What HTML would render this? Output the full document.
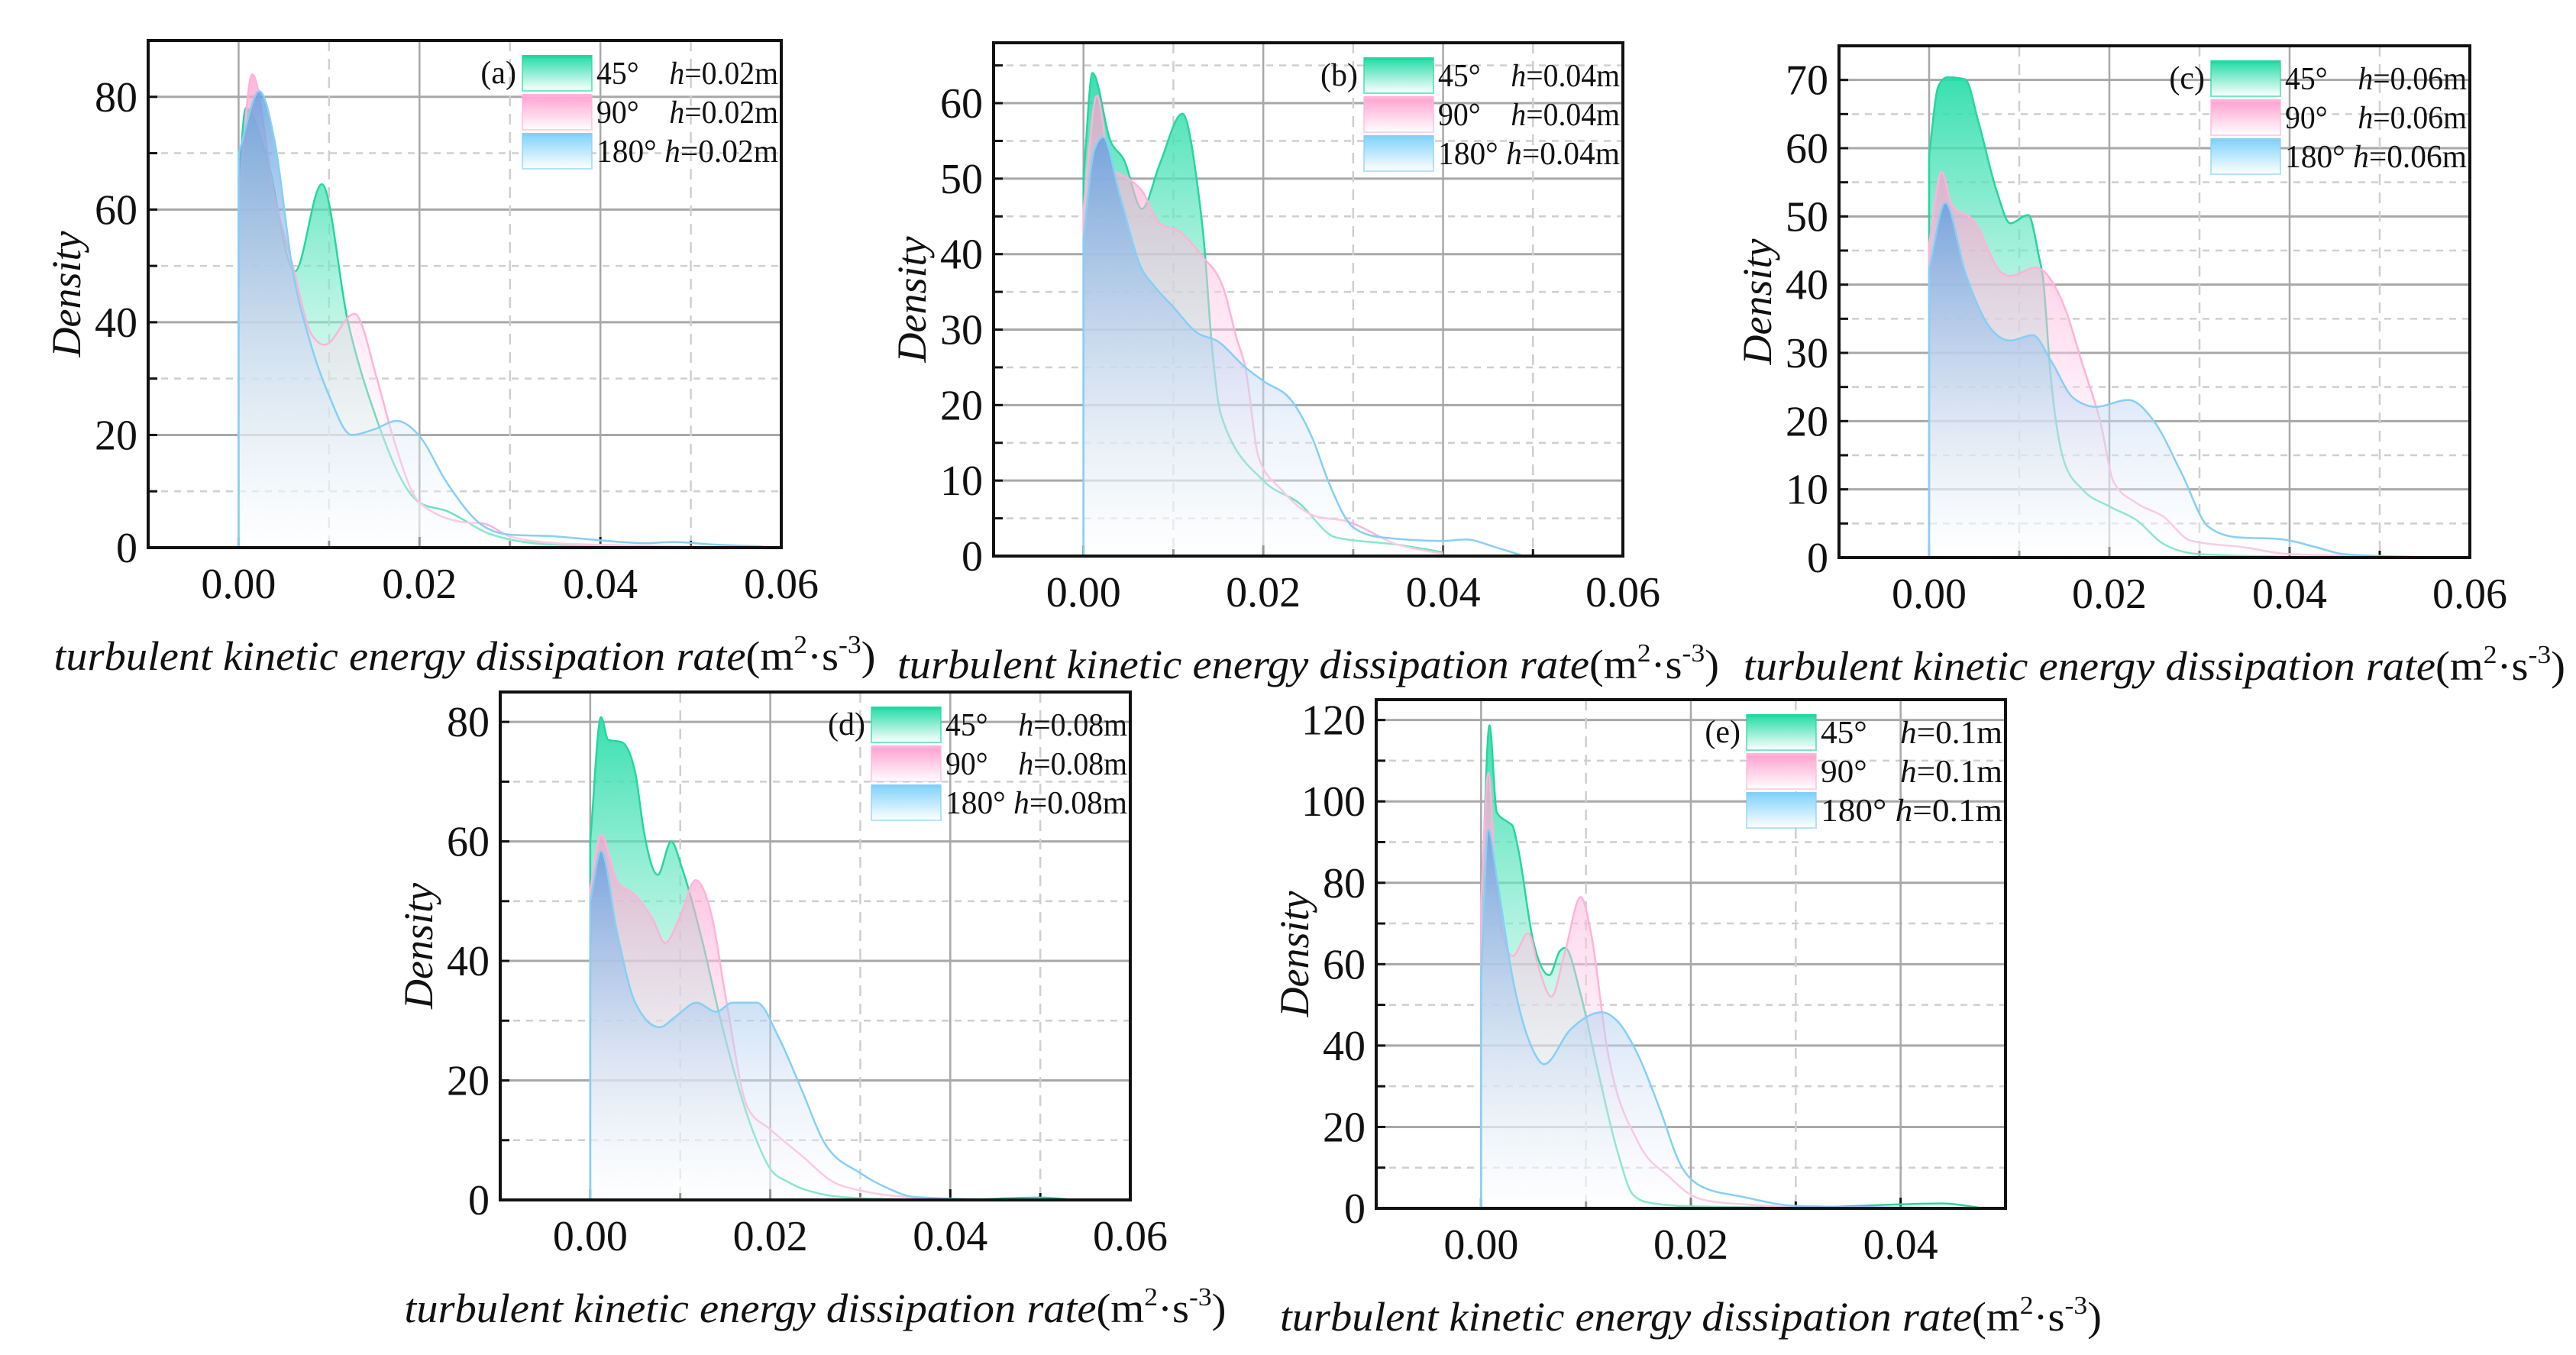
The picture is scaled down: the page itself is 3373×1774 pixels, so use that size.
<!DOCTYPE html>
<html><head><meta charset="utf-8">
<style>
html,body{margin:0;padding:0;background:#fff;}
svg{display:block;}
text{font-family:"Liberation Serif",serif;fill:#111;}
</style></head>
<body>
<svg id="fig" width="3373" height="1774" viewBox="0 0 3373 1774" xmlns="http://www.w3.org/2000/svg">
<defs>
<linearGradient id="gG" x1="0" y1="0" x2="0" y2="1"><stop offset="0" stop-color="#22dca6" stop-opacity="0.9"/><stop offset="1" stop-color="#ffffff" stop-opacity="0.2"/></linearGradient>
<linearGradient id="gP" x1="0" y1="0" x2="0" y2="1"><stop offset="0" stop-color="#ff9fcf" stop-opacity="0.75"/><stop offset="1" stop-color="#ffffff" stop-opacity="0.2"/></linearGradient>
<linearGradient id="gB" x1="0" y1="0" x2="0" y2="1"><stop offset="0" stop-color="#5f9fe0" stop-opacity="0.8"/><stop offset="0.6" stop-color="#c8dcf5" stop-opacity="0.5"/><stop offset="1" stop-color="#ffffff" stop-opacity="0.3"/></linearGradient>
<linearGradient id="lG" x1="0" y1="0" x2="0" y2="1"><stop offset="0" stop-color="#22dca6"/><stop offset="1" stop-color="#ffffff"/></linearGradient>
<linearGradient id="lP" x1="0" y1="0" x2="0" y2="1"><stop offset="0" stop-color="#ff9fcf"/><stop offset="1" stop-color="#ffffff"/></linearGradient>
<linearGradient id="lB" x1="0" y1="0" x2="0" y2="1"><stop offset="0" stop-color="#7fd2fb"/><stop offset="1" stop-color="#ffffff"/></linearGradient>
</defs>
</svg>
<script>
// ---- Panel (a) h=0.02m ----
const a45x = [0,0.0008,0.003,0.0062,0.0092,0.0121,0.015,0.02,0.023,0.028,0.035,0.05];
const a45y = [65,78,70,49,64.5,40,24,8,6.5,2.3,0.5,0];
const a90x = [0,0.0015,0.004,0.006,0.008,0.0095,0.0128,0.0153,0.017,0.02,0.025,0.027,0.03,0.035,0.04,0.05];
const a90y = [62,84,62,50,38,36,41.5,30,20,8,4.5,4.3,2,0.8,0.5,0.2];
const a180x = [0,0.0023,0.004,0.006,0.008,0.01,0.0125,0.015,0.0175,0.02,0.023,0.027,0.03,0.035,0.04,0.045,0.048,0.052,0.058];
const a180y = [70,81,72,49,36,27,20,21,22.5,19.8,11.6,3.9,2.3,2.0,1.3,0.8,1.0,0.6,0.2];
// ---- Panel (b) h=0.04m ----
const b45x = [0,0.001,0.003,0.0045,0.0065,0.0085,0.011,0.0126,0.0135,0.0142,0.0153,0.02,0.024,0.028,0.035,0.04];
const b45y = [50,64,55,52.5,46,52,58.6,49.8,40.3,29,18.7,10,7,2.5,1.5,0.5];
const b90x = [0,0.0015,0.003,0.005,0.0065,0.0085,0.0107,0.013,0.0157,0.017,0.018,0.0195,0.022,0.026,0.029,0.035,0.04];
const b90y = [46,61,51.5,50,48.4,44,43,40,35,29,25,13,8.8,5.2,4.7,1.5,0.3];
const b180x = [0,0.0012,0.0022,0.004,0.0065,0.0077,0.01,0.0125,0.015,0.018,0.02,0.0232,0.0255,0.0273,0.03,0.033,0.04,0.0425,0.046,0.049];
const b180y = [42,53.8,55.5,48,38,36,33,29.7,28.4,25,23.2,20.5,15.5,9.7,3.8,2.5,2.0,2.2,1.1,0];
// ---- Panel (c) h=0.06m ----
const c45x = [0,0.001,0.002,0.004,0.0055,0.0075,0.009,0.011,0.0122,0.0126,0.0135,0.015,0.017,0.02,0.023,0.026,0.03,0.04];
const c45y = [59,69,70.4,70.1,63.7,53.7,49,50.2,44,41.3,26.4,14,10,7.5,5.5,2,0.5,0.1];
const c90x = [0,0.0014,0.0025,0.005,0.008,0.009,0.0118,0.015,0.017,0.019,0.0205,0.023,0.026,0.029,0.035,0.04,0.05];
const c90y = [46,56.5,51.7,49.3,41.8,41.3,42.5,36.8,28.4,19.9,11,8,6,2.5,1.5,0.5,0.2];
const c180x = [0,0.0018,0.004,0.007,0.009,0.0115,0.0135,0.016,0.0185,0.0221,0.025,0.028,0.031,0.034,0.039,0.043,0.046,0.05,0.06];
const c180y = [42.3,52,41.8,33.3,31.8,32.6,28.9,23.4,22.1,23.1,19.9,12.4,4.5,3,2.7,1.5,0.5,0.25,0];
// ---- Panel (d) h=0.08m ----
const d45x = [0,0.0012,0.002,0.0035,0.005,0.006,0.0075,0.009,0.0102,0.0125,0.0145,0.018,0.02,0.022,0.026,0.03,0.04,0.05,0.054];
const d45y = [60,80.8,77,76.6,71.5,61.3,54.4,60,55.5,43,30,11.8,5.2,3,0.9,0.3,0,0.4,0];
const d90x = [0,0.0012,0.003,0.005,0.007,0.0083,0.01,0.0117,0.0135,0.015,0.0175,0.02,0.0235,0.027,0.03,0.035,0.04];
const d90y = [52,61.1,53.3,51,46.8,43,47.5,53.5,47.5,34.4,15.4,11.8,7.4,3,1.6,0.5,0];
const d180x = [0,0.0012,0.003,0.005,0.0077,0.0095,0.0118,0.014,0.0158,0.0185,0.021,0.0235,0.026,0.03,0.033,0.036,0.045,0.05];
const d180y = [50,58.4,44.6,33,28.9,30.7,33,31.5,33,33,27,18.4,9.6,4.5,2,0.5,0.1,0.2];
// ---- Panel (e) h=0.1m ----
const e45x = [0,0.0008,0.0015,0.0025,0.003,0.0035,0.005,0.0065,0.0075,0.008,0.0095,0.011,0.013,0.0145,0.016,0.02,0.03,0.044,0.048];
const e45y = [69.5,118.7,97.3,95,94,88.8,65.3,57.3,63.2,64,52.5,35.4,14,3.3,1.4,0.5,0.2,1.2,0];
const e90x = [0,0.0007,0.0015,0.003,0.0045,0.0055,0.0067,0.008,0.0095,0.0105,0.012,0.015,0.018,0.02,0.022,0.025,0.03,0.04];
const e90y = [75,107,76,62,67.6,58.9,52,63,76.5,67.4,39.6,16.1,7.6,3.3,1.7,1,0.3,0];
const e180x = [0,0.0007,0.0015,0.003,0.005,0.006,0.0085,0.0115,0.013,0.015,0.017,0.019,0.021,0.025,0.03,0.04,0.05];
const e180y = [56.7,93,81.3,56.7,38.6,35.4,43.9,48.2,46,37.5,24.7,10.8,5.4,2.8,0.6,0.2,0];

const xTicks6 = ['0.00','0.02','0.04','0.06'];
const xTicks4 = ['0.00','0.02','0.04'];

const NS = 'http://www.w3.org/2000/svg';
const svg = document.getElementById('fig');
function mk(tag, attrs, parent){
  const e = document.createElementNS(NS, tag);
  for (const k in attrs) e.setAttribute(k, attrs[k]);
  (parent||svg).appendChild(e);
  return e;
}
function monotonePath(pts){
  const n = pts.length;
  if (n < 2) return '';
  const s = [], h = [];
  for (let i=0;i<n-1;i++){ h[i]=pts[i+1][0]-pts[i][0]; s[i]=(pts[i+1][1]-pts[i][1])/h[i]; }
  const t = [];
  t[0]=s[0]; t[n-1]=s[n-2];
  for (let i=1;i<n-1;i++){
    const s0=s[i-1], s1=s[i], h0=h[i-1], h1=h[i];
    if (s0*s1<=0) t[i]=0;
    else { const p=(s0*h1+s1*h0)/(h0+h1); t[i]=(Math.sign(s0)+Math.sign(s1))*Math.min(Math.abs(s0),Math.abs(s1),0.5*Math.abs(p)); }
  }
  let d='';
  for (let i=0;i<n-1;i++){
    const dx=h[i]/3;
    d+=` C${(pts[i][0]+dx).toFixed(1)},${(pts[i][1]+dx*t[i]).toFixed(1)} ${(pts[i+1][0]-dx).toFixed(1)},${(pts[i+1][1]-dx*t[i+1]).toFixed(1)} ${pts[i+1][0].toFixed(1)},${pts[i+1][1].toFixed(1)}`;
  }
  return d;
}

const panels = [
  {id:'a', L:194,R:1023,T:53,B:717, xmax:0.06, ymax:90, major:20, minor:10, xt:xTicks6, h:'0.02m',
   s:[[a45x,a45y],[a90x,a90y],[a180x,a180y]]},
  {id:'b', L:1301,R:2125,T:56,B:728, xmax:0.06, ymax:68, major:10, minor:5, xt:xTicks6, h:'0.04m',
   s:[[b45x,b45y],[b90x,b90y],[b180x,b180y]]},
  {id:'c', L:2408,R:3234,T:60,B:730, xmax:0.06, ymax:75, major:10, minor:5, xt:xTicks6, h:'0.06m',
   s:[[c45x,c45y],[c90x,c90y],[c180x,c180y]]},
  {id:'d', L:655,R:1480,T:906,B:1571, xmax:0.06, ymax:85, major:20, minor:10, xt:xTicks6, h:'0.08m',
   s:[[d45x,d45y],[d90x,d90y],[d180x,d180y]]},
  {id:'e', L:1802,R:2626,T:916,B:1582, xmax:0.05, ymax:125, major:20, minor:10, xt:xTicks4, h:'0.1m',
   s:[[e45x,e45y],[e90x,e90y],[e180x,e180y]]}
];
const fills=['url(#gG)','url(#gP)','url(#gB)'];
const strokes=['#25d6a0','#ffb3d9','#86cff5'];
const sNames=['45deg','90deg','180deg'];
const angles=['45°\u00a0\u00a0\u00a0\u00a0','90°\u00a0\u00a0\u00a0\u00a0','180°\u00a0'];
const legFill=['url(#lG)','url(#lP)','url(#lB)'];

panels.forEach(P=>{
  const xmin=-0.01;
  const X=v=>P.L+(v-xmin)/(P.xmax-xmin)*(P.R-P.L);
  const Y=v=>P.B-v/P.ymax*(P.B-P.T);
  const g=mk('g',{});
  
  
  for (let v=P.minor; v<P.ymax; v+=P.minor){
    const isMajor = Math.abs(v/P.major-Math.round(v/P.major))<1e-6;
    const ln=mk('line',{x1:P.L,x2:P.R,y1:Y(v),y2:Y(v),stroke:isMajor?'#a8a8a8':'#cfcfcf','stroke-width':isMajor?3:2.5,'stroke-dasharray':isMajor?'':'9,8'},g);
    
    
    mk('line',{x1:P.L,x2:P.L+12,y1:Y(v),y2:Y(v),stroke:'#111','stroke-width':3},g);
  }
  for (let k=0;k<=Math.round(P.xmax/0.01);k++){
    const v=k*0.01; if (X(v)>=P.R-2) continue;
    const isMajor=(k%2===0);
    const ln=mk('line',{x1:X(v),x2:X(v),y1:P.T,y2:P.B,stroke:isMajor?'#a8a8a8':'#cfcfcf','stroke-width':2.5,'stroke-dasharray':isMajor?'':'14,10'},g);
    
    
    mk('line',{x1:X(v),x2:X(v),y1:P.B,y2:P.B-(isMajor?14:9),stroke:'#111','stroke-width':3},g);
  }
  P.s.forEach((sr,i)=>{
    const xs=sr[0], ys=sr[1];
    const pts=xs.map((x,j)=>[X(x),Y(ys[j])]);
    const curve=monotonePath(pts);
    const area=mk('path',{d:`M${X(xs[0])},${P.B} L${pts[0][0]},${pts[0][1]}${curve} L${pts[pts.length-1][0]},${P.B} Z`,fill:fills[i],stroke:'none'},g);
    
    
    const line=mk('path',{d:`M${X(xs[0])},${P.B} L${pts[0][0]},${pts[0][1]}${curve}`,fill:'none',stroke:strokes[i],'stroke-width':2.5},g);
    
    
  });
  const fr=mk('rect',{x:P.L,y:P.T,width:P.R-P.L,height:P.B-P.T,fill:'none',stroke:'#111','stroke-width':4},g);
  
  
  for (let v=0; v<=P.ymax; v+=P.major){
    const t=mk('text',{x:P.L-14,y:Y(v)+19,'text-anchor':'end','font-size':56},g);
    t.textContent=String(v);
    
    
  }
  P.xt.forEach(lbl=>{
    const t=mk('text',{x:X(parseFloat(lbl)),y:P.B+66,'text-anchor':'middle','font-size':56},g);
    t.textContent=lbl;
    
    
  });
  const cy=(P.T+P.B)/2, cx=P.L-107;
  const yt=mk('text',{x:cx,y:cy,'text-anchor':'middle','font-size':54,'font-style':'italic',transform:`rotate(-90 ${cx} ${cy}) translate(0 18)`},g);
  yt.textContent='Density';
  
  
  const xt=mk('text',{x:(P.L+P.R)/2,y:P.B+160,'text-anchor':'middle','font-size':54,textLength:1076,lengthAdjust:'spacingAndGlyphs'},g);
  
  
  const t1=mk('tspan',{'font-style':'italic'},xt); t1.textContent='turbulent kinetic energy dissipation rate';
  const t2=mk('tspan',{},xt); t2.textContent='(m';
  const t3=mk('tspan',{'font-size':34,dy:-22},xt); t3.textContent='2';
  const t4=mk('tspan',{dy:22},xt); t4.textContent='·s';
  const t5=mk('tspan',{'font-size':34,dy:-22},xt); t5.textContent='-3';
  const t6=mk('tspan',{dy:22},xt); t6.textContent=')';
  const lg=mk('g',{},g);
  
  
  const sx=P.R-339;
  const lab=mk('text',{x:sx-8,y:P.T+20+36,'text-anchor':'end','font-size':42},lg);
  lab.textContent='('+P.id+')';
  
  
  for (let i=0;i<3;i++){
    const ry=P.T+20+i*51;
    const sw=mk('rect',{x:sx,y:ry,width:91,height:46,fill:legFill[i],stroke:strokes[i],'stroke-width':2,'stroke-opacity':0.6},lg);
    
    
    mk('line',{x1:sx,x2:sx+91,y1:ry+1,y2:ry+1,stroke:strokes[i],'stroke-width':4},lg);
    const tx=mk('text',{x:sx+97,y:ry+37,'font-size':42,textLength:238,lengthAdjust:'spacingAndGlyphs'},lg);
    
    
    const a=mk('tspan',{},tx); a.textContent=angles[i];
    const hh=mk('tspan',{'font-style':'italic'},tx); hh.textContent='h';
    const rest=mk('tspan',{},tx); rest.textContent='='+P.h;
  }
});
</script>
</body></html>
